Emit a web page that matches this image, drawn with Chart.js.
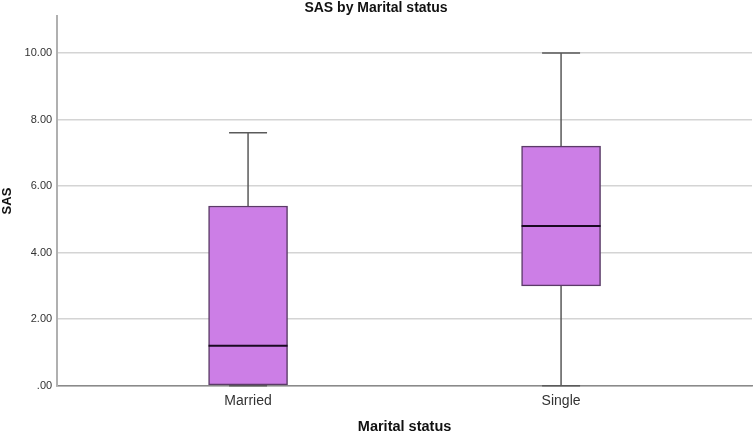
<!DOCTYPE html>
<html>
<head>
<meta charset="utf-8">
<script src="https://cdn.jsdelivr.net/npm/chart.js@4.4.1/dist/chart.umd.min.js"></script>
<style>
  html, body { margin: 0; padding: 0; background: #fff; }
  #wrap { width: 753px; height: 434px; }
</style>
</head>
<body>
<div id="wrap"><canvas id="boxChart"></canvas></div>
<script>
// box plot values
const categories = ['Married', 'Single'];
const whiskerLow = [0, 0];
const q1Values = [0, 3.0];
const medianValues = [1.2, 4.8];
const q3Values = [5.4, 7.2];
const whiskerHigh = [7.6, 10.0];
const yTicks = [0, 2, 4, 6, 8, 10];

const boxFill = '#cc7ee6';
const boxBorder = '#5b3b68';

// whiskers behind the boxes, medians on top
const boxPlotLines = {
    id: 'boxPlotLines',
    beforeDatasetsDraw(chart) {
        const { ctx, scales: { x, y } } = chart;
        ctx.save();
        ctx.strokeStyle = '#5a5a5a';
        ctx.lineWidth = 1.5;
        categories.forEach((c, i) => {
            const cx = x.getPixelForValue(i + 1);
            ctx.beginPath();
            ctx.moveTo(cx, y.getPixelForValue(whiskerLow[i]));
            ctx.lineTo(cx, y.getPixelForValue(q1Values[i]));
            ctx.moveTo(cx, y.getPixelForValue(q3Values[i]));
            ctx.lineTo(cx, y.getPixelForValue(whiskerHigh[i]));
            [whiskerLow[i], whiskerHigh[i]].forEach(v => {
                const py = y.getPixelForValue(v);
                ctx.moveTo(cx - 19, py);
                ctx.lineTo(cx + 19, py);
            });
            ctx.stroke();
        });
        ctx.restore();
    },
    afterDatasetsDraw(chart) {
        const { ctx, scales: { y } } = chart;
        const meta = chart.getDatasetMeta(0);
        ctx.save();
        ctx.strokeStyle = '#1a0a22';
        ctx.lineWidth = 2;
        meta.data.forEach((bar, i) => {
            const py = y.getPixelForValue(medianValues[i]);
            ctx.beginPath();
            ctx.moveTo(bar.x - bar.width / 2, py);
            ctx.lineTo(bar.x + bar.width / 2, py);
            ctx.stroke();
        });
        ctx.restore();
    }
};

const ctx = document.getElementById('boxChart').getContext('2d');

new Chart(ctx, {
    type: 'bar',
    data: {
        datasets: [{
            label: 'SAS',
            xAxisID: 'x',
            yAxisID: 'y',
            data: categories.map((c, i) => ({ x: i + 1, y: [q1Values[i], q3Values[i]] })),
            backgroundColor: boxFill,
            borderColor: boxBorder,
            borderWidth: 1.5,
            borderSkipped: false,
            barThickness: 79,
            grouped: false
        }]
    },
    options: {
        responsive: true,
        maintainAspectRatio: false,
        animation: false,
        layout: { padding: { left: 0, right: 1, top: 0, bottom: 0 } },
        plugins: {
            legend: { display: false },
            tooltip: { enabled: false },
            title: {
                display: true,
                text: 'SAS by Marital status',
                color: '#111',
                font: { family: 'Liberation Sans', size: 14, weight: 'bold', lineHeight: 1.1 },
                padding: { top: 0, bottom: 1 }
            }
        },
        scales: {
            x: {
                type: 'linear',
                offset: false,
                min: 0.39,
                max: 2.61,
                afterBuildTicks: axis => { axis.ticks = categories.map((c, i) => ({ value: i + 1 })); },
                ticks: {
                    color: '#333',
                    padding: 7,
                    font: { family: 'Liberation Sans', size: 14 },
                    callback: value => categories[value - 1]
                },
                grid: { display: false, drawTicks: false },
                border: { color: '#8a8a8a', width: 1.5 },
                title: {
                    display: true,
                    text: 'Marital status',
                    color: '#111',
                    font: { family: 'Liberation Sans', size: 14.5, weight: 'bold', lineHeight: 1 },
                    padding: { top: 3, bottom: 0 }
                }
            },
            y: {
                min: 0,
                max: 11.1,
                afterBuildTicks: axis => { axis.ticks = yTicks.map(v => ({ value: v })); },
                ticks: {
                    color: '#333',
                    padding: 5,
                    font: { family: 'Liberation Sans', size: 11 },
                    callback: value => value === 0 ? '.00' : value.toFixed(2)
                },
                grid: { color: '#d4d4d4', lineWidth: 1.5, drawTicks: false },
                border: { color: '#b0b0b0', width: 2 },
                title: {
                    display: true,
                    text: 'SAS',
                    color: '#111',
                    font: { family: 'Liberation Sans', size: 13, weight: 'bold' },
                    padding: { top: 0, bottom: 4 }
                }
            }
        }
    },
    plugins: [boxPlotLines]
});
</script>
</body>
</html>
